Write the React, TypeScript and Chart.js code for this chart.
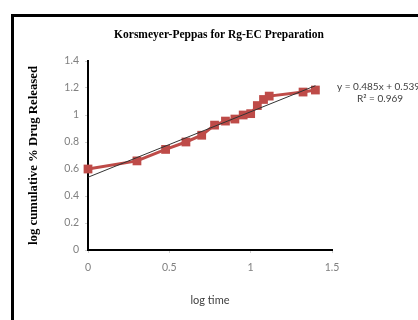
import { useEffect, useRef } from "react";
import { Chart, registerables } from "chart.js";

Chart.register(...registerables);

const chartTitle = "Korsmeyer-Peppas for Rg-EC Preparation";
const xAxisTitle = "log time";
const yAxisTitle = "log cumulative % Drug Released";

const logTime = [0, 0.301, 0.477, 0.602, 0.699, 0.778, 0.845, 0.903, 0.954, 1.0, 1.041, 1.079, 1.114, 1.322, 1.398];
const logRelease = [0.6, 0.66, 0.745, 0.8, 0.85, 0.925, 0.955, 0.97, 1.0, 1.01, 1.07, 1.115, 1.14, 1.17, 1.185];

const trendX = [0, 1.398];
const trendY = [0.539, 1.217];

const equationText = "y = 0.485x + 0.539";
const r2Text = "R² = 0.969";

const xMin = 0;
const xMax = 1.5;
const xStep = 0.5;
const yMin = 0;
const yMax = 1.4;
const yStep = 0.2;

const framePlugin = {
  id: "frameAndEquation",
  beforeDraw(chart: any) {
    const ctx = chart.ctx;
    ctx.save();
    ctx.fillStyle = "#ffffff";
    ctx.fillRect(0, 0, chart.width, chart.height);
    ctx.strokeStyle = "#000000";
    ctx.lineWidth = 3;
    ctx.beginPath();
    ctx.moveTo(12.5, chart.height);
    ctx.lineTo(12.5, 15.5);
    ctx.lineTo(chart.width, 15.5);
    ctx.stroke();
    ctx.restore();
  },
  afterDraw(chart: any) {
    const ctx = chart.ctx;
    const area = chart.chartArea;
    const y = chart.scales.y;
    ctx.save();
    ctx.fillStyle = "#404040";
    ctx.font = "10px Lato";
    ctx.textBaseline = "middle";
    ctx.textAlign = "left";
    const x0 = area.right + 5;
    const y0 = y.getPixelForValue(1.2) - 1;
    ctx.fillText(equationText, x0, y0);
    ctx.textAlign = "center";
    ctx.fillText(r2Text, x0 + 43, y0 + 12);
    ctx.restore();
  },
};

export default function App() {
  const canvasRef = useRef<HTMLCanvasElement | null>(null);

  useEffect(() => {
    const canvas = canvasRef.current;
    if (!canvas) return;
    const chart = new Chart(canvas, {
      type: "scatter",
      data: {
        datasets: [
          {
            label: "Trend",
            data: trendX.map((x, i) => ({ x, y: trendY[i] })),
            showLine: true,
            borderColor: "#333333",
            borderWidth: 1,
            pointRadius: 0,
            order: 0,
          },
          {
            label: "Rg-EC",
            data: logTime.map((x, i) => ({ x, y: logRelease[i] })),
            showLine: true,
            borderColor: "#BE4B48",
            backgroundColor: "#BE4B48",
            borderWidth: 3,
            pointStyle: "rect",
            pointRadius: 6.2,
            pointBorderWidth: 0,
            order: 1,
            clip: false,
          } as any,
        ],
      },
      options: {
        animation: false,
        responsive: false,
        maintainAspectRatio: false,
        layout: { padding: { left: 20, right: 0, top: 0, bottom: 10 } },
        plugins: {
          legend: { display: false },
          tooltip: { enabled: false },
          title: {
            display: true,
            text: chartTitle,
            color: "#000000",
            font: { family: "Liberation Serif", size: 11.5, weight: "bold" },
            padding: { top: 28, bottom: 19.2 },
          },
        },
        scales: {
          x: {
            type: "linear",
            min: xMin,
            max: xMax,
            afterFit(scale: any) {
              scale.height = 60;
              scale.paddingRight = 86;
            },
            ticks: {
              stepSize: xStep,
              color: "#808080",
              font: { family: "Lato", size: 10.5 },
              padding: 8,
              callback: (v: any) => String(Number(Number(v).toFixed(1))),
            },
            grid: {
              display: true,
              drawOnChartArea: false,
              drawTicks: true,
              tickLength: 3,
              color: "#d0d0d0",
            },
            border: { display: true, color: "#000000", width: 2 },
            title: {
              display: true,
              text: xAxisTitle,
              color: "#404040",
              font: { family: "Lato", size: 11 },
              padding: { top: 0, bottom: 3 },
            },
          },
          y: {
            type: "linear",
            min: yMin,
            max: yMax,
            afterFit(scale: any) {
              scale.width = 68;
            },
            ticks: {
              stepSize: yStep,
              color: "#808080",
              font: { family: "Lato", size: 10.5 },
              padding: 6,
              callback: (v: any) => String(Number(Number(v).toFixed(1))),
            },
            grid: {
              display: true,
              drawOnChartArea: false,
              drawTicks: true,
              tickLength: 3,
              color: "#d0d0d0",
            },
            border: { display: true, color: "#000000", width: 2 },
            title: {
              display: true,
              text: yAxisTitle,
              color: "#000000",
              font: { family: "Liberation Serif", size: 12.8, weight: "bold" },
              padding: { top: 6, bottom: 0 },
            },
          },
        },
      },
      plugins: [framePlugin],
    });
    return () => chart.destroy();
  }, []);

  return (
    <div style={{ position: "absolute", left: 0, top: 0, width: 418, height: 320 }}>
      <canvas ref={canvasRef} width={418} height={320} style={{ width: 418, height: 320 }} />
    </div>
  );
}
